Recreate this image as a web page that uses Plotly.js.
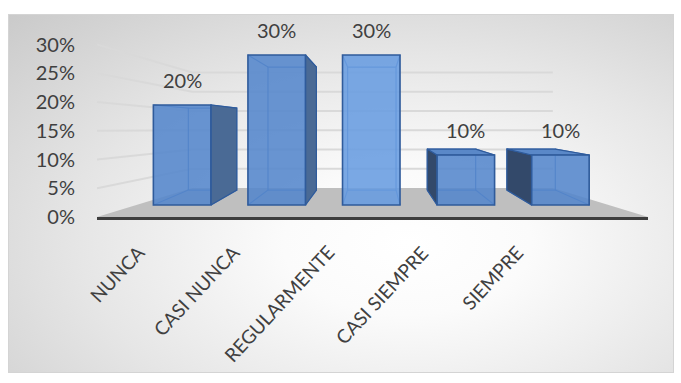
<!DOCTYPE html>
<html><head><meta charset="utf-8">
<script src="https://cdn.plot.ly/plotly-3.0.1.min.js"></script>
<style>
html,body{margin:0;padding:0;background:#fff;}
#wrap{position:relative;width:681px;height:383px;overflow:hidden;}
#bg{position:absolute;left:8px;top:14px;width:664px;height:357px;border:1px solid #d4d4d4;
background:radial-gradient(ellipse at 60% 64%, #ffffff 0%, #fbfbfb 22%, #e6e6e6 58%, #cacaca 100%);}
#chart{position:absolute;left:0;top:0;width:681px;height:383px;}
</style></head><body><div id="wrap"><div id="bg"></div><div id="chart"></div></div>
<script>
// ---- data ----
const categories = ['NUNCA', 'CASI NUNCA', 'REGULARMENTE', 'CASI SIEMPRE', 'SIEMPRE'];
const values = [20, 30, 30, 10, 10];
const valueLabels = ['20%', '30%', '30%', '10%', '10%'];
const yTickVals = [0, 5, 10, 15, 20, 25, 30];
const yTickText = ['0%', '5%', '10%', '15%', '20%', '25%', '30%'];

// ---- perspective geometry (layout constants) ----
const X0 = -0.9, X1 = 4.926, Y_TOP = 34.26;
const FRONT_BASE = 2.087, FRONT_SCALE = 0.8696;
const VX = 2.037, SX = 0.842, VY = 16.52, SY = 0.82;
const FLOOR_BACK = 5.04, FLOOR_BX0 = 0.106, FLOOR_BX1 = 3.92, WALL_SCALE = 0.67;
const BAR_W = 0.608, HALF = BAR_W / 2;
const frontColors = ['rgba(84,134,204,0.88)', 'rgba(84,134,204,0.88)', 'rgba(104,156,224,0.88)', 'rgba(84,134,204,0.88)', 'rgba(84,134,204,0.88)'];
const edgeColor = '#2f5b9b';
const font = 'Lato, "Open Sans", sans-serif';
const textColor = '#404040';

const bx = x => VX + SX * (x - VX);
const by = y => VY + SY * (y - VY);

const traces = [];
// floor
traces.push({type: 'scatter', mode: 'lines', x: [X0, X1, FLOOR_BX1, FLOOR_BX0, X0], y: [0, 0, FLOOR_BACK, FLOOR_BACK, 0],
  fill: 'toself', fillcolor: '#bfbfbf', line: {width: 0}, hoverinfo: 'skip', showlegend: false});
// gridlines (side wall + back wall)
const gx = [], gy = [];
yTickVals.filter(v => v > 0).forEach(v => {
  const b = FLOOR_BACK + WALL_SCALE * v;
  gx.push(X0, FLOOR_BX0, FLOOR_BX1, null);
  gy.push(v, b, b, null);
});
traces.push({type: 'scatter', mode: 'lines', x: gx, y: gy, line: {color: '#d9d9d9', width: 2}, hoverinfo: 'skip', showlegend: false});

// 3D parts of each bar
values.forEach((v, i) => {
  const xl = i - HALF, xr = i + HALF, yb = FRONT_BASE, yt = FRONT_BASE + FRONT_SCALE * v;
  const bxl = bx(xl), bxr = bx(xr), byb = by(yb), byt = by(yt);
  traces.push({type: 'scatter', mode: 'lines',
    x: [bxl, bxr, bxr, bxl, bxl, null, xl, bxl, null, xr, bxr, null, xl, bxl, null, xr, bxr],
    y: [byb, byb, byt, byt, byb, null, yb, byb, null, yb, byb, null, yt, byt, null, yt, byt],
    line: {color: 'rgba(55,105,180,0.85)', width: 1.2}, hoverinfo: 'skip', showlegend: false});
  if (bxr > xr) {
    traces.push({type: 'scatter', mode: 'lines', x: [xr, xr, bxr, bxr, xr], y: [yb, yt, byt, byb, yb],
      fill: 'toself', fillcolor: '#4a6a95', line: {color: edgeColor, width: 1.2}, hoverinfo: 'skip', showlegend: false});
  }
  if (bxl < xl) {
    traces.push({type: 'scatter', mode: 'lines', x: [xl, xl, bxl, bxl, xl], y: [yb, yt, byt, byb, yb],
      fill: 'toself', fillcolor: '#33496a', line: {color: edgeColor, width: 1.2}, hoverinfo: 'skip', showlegend: false});
  }
  if (byt > yt) {
    traces.push({type: 'scatter', mode: 'lines', x: [xl, xr, bxr, bxl, xl], y: [yt, yt, byt, byt, yt],
      fill: 'toself', fillcolor: '#5a88c8', line: {color: edgeColor, width: 1.2}, hoverinfo: 'skip', showlegend: false});
  }
});

// front faces
traces.push({type: 'bar', x: categories.map((c, i) => i), y: values, yaxis: 'y2', width: BAR_W,
  marker: {color: frontColors, line: {color: edgeColor, width: 1.6}}, hoverinfo: 'skip', showlegend: false});

const annotations = [];
values.forEach((v, i) => {
  annotations.push({x: i, y: v, xref: 'x', yref: 'y2', text: valueLabels[i], showarrow: false,
    yanchor: 'middle', yshift: 25, font: {family: font, size: 20, color: textColor}});
});
categories.forEach((c, i) => {
  annotations.push({x: i, y: 0, xref: 'x', yref: 'paper', text: c, showarrow: false, textangle: -47,
    xanchor: 'right', yanchor: 'top', xshift: -30, yshift: -21, font: {family: font, size: 19, color: textColor}});
});

const layout = {
  width: 681, height: 383,
  margin: {l: 97, r: 33, t: 20, b: 166},
  paper_bgcolor: 'rgba(0,0,0,0)', plot_bgcolor: 'rgba(0,0,0,0)',
  showlegend: false,
  xaxis: {range: [X0, X1], showgrid: false, zeroline: false, showticklabels: false, ticks: '',
    showline: true, linecolor: '#3d3d3d', linewidth: 3, fixedrange: true},
  yaxis: {range: [0, Y_TOP], tickvals: yTickVals, ticktext: yTickText, showgrid: false, zeroline: false,
    showline: false, ticks: 'outside', ticklen: 17, tickcolor: 'rgba(0,0,0,0)',
    tickfont: {family: font, size: 20, color: textColor}, fixedrange: true},
  yaxis2: {overlaying: 'y', range: [(0 - FRONT_BASE) / FRONT_SCALE, (Y_TOP - FRONT_BASE) / FRONT_SCALE],
    visible: false, fixedrange: true},
  annotations: annotations
};
Plotly.newPlot('chart', traces, layout, {displayModeBar: false, staticPlot: true});
</script></body></html>
